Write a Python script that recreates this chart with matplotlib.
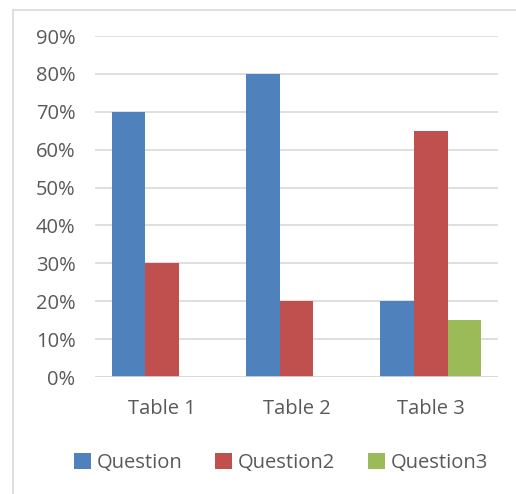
import numpy as np
import matplotlib.pyplot as plt
from matplotlib.lines import Line2D
from matplotlib.patches import Patch

# datos
categorias = ['Table 1', 'Table 2', 'Table 3']
question = [0.70, 0.80, 0.20]
question2 = [0.30, 0.20, 0.65]
question3 = [0.0, 0.0, 0.15]
series = ['Question', 'Question2', 'Question3']
colores = ['#4F81BD', '#C0504D', '#9BBB59']
yticks = [0, 0.1, 0.2, 0.3, 0.4, 0.5, 0.6, 0.7, 0.8, 0.9]

plt.rcParams['font.family'] = ['Open Sans', 'DejaVu Sans']
gris = '#595959'
fs = 14.5

W, H = 516, 494
fig = plt.figure(figsize=(W / 100, H / 100), dpi=100)
ax = fig.add_axes([95 / W, (H - 377) / H, (498 - 95) / W, (377 - 36) / H])

x = np.arange(len(categorias))
ancho = 0.25
for k, (vals, col) in enumerate(zip([question, question2, question3], colores)):
    ax.bar(x + (k - 1) * ancho, vals, width=ancho, color=col, zorder=3)

ax.set_xlim(-0.5, 2.5)
ax.set_ylim(0, 0.9)
ax.set_yticks(yticks)
ax.set_yticklabels([f'{int(round(v * 100))}%' for v in yticks])
ax.set_xticks(x)
ax.set_xticklabels(categorias)
ax.tick_params(axis='both', length=0, labelsize=fs, colors=gris)
ax.tick_params(axis='y', pad=14)
ax.tick_params(axis='x', pad=16)
ax.grid(axis='y', color='#D9D9D9', linewidth=1.2, zorder=0)
for s in ax.spines.values():
    s.set_visible(False)
ax.axhline(0, color='#D9D9D9', linewidth=1.2, zorder=4)

# marco del grafico (solo arriba e izquierda visibles)
fig.add_artist(Line2D([13 / W, 1], [1 - 10 / H, 1 - 10 / H], color='#D9D9D9', linewidth=1.2))
fig.add_artist(Line2D([13 / W, 13 / W], [0, 1 - 10 / H], color='#D9D9D9', linewidth=1.2))

handles = [Patch(facecolor=c, label=s) for c, s in zip(colores, series)]
fig.legend(handles=handles, loc='center', bbox_to_anchor=(281 / W, 1 - 463 / H), ncol=3,
           frameon=False, fontsize=fs, labelcolor=gris, handlelength=0.85, handleheight=0.85,
           handletextpad=0.3, columnspacing=1.6)

fig.savefig('out.png', dpi=100)
